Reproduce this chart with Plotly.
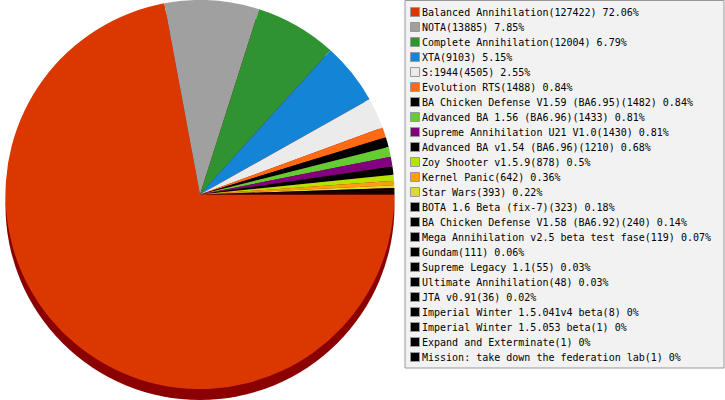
import plotly.graph_objects as go

names = [
    "Balanced Annihilation", "NOTA", "Complete Annihilation", "XTA", "S:1944",
    "Evolution RTS", "BA Chicken Defense V1.59 (BA6.95)", "Advanced BA 1.56 (BA6.96)",
    "Supreme Annihilation U21 V1.0", "Advanced BA v1.54 (BA6.96)", "Zoy Shooter v1.5.9",
    "Kernel Panic", "Star Wars", "BOTA 1.6 Beta (fix-7)", "BA Chicken Defense V1.58 (BA6.92)",
    "Mega Annihilation v2.5 beta test fase", "Gundam", "Supreme Legacy 1.1",
    "Ultimate Annihilation", "JTA v0.91", "Imperial Winter 1.5.041v4 beta",
    "Imperial Winter 1.5.053 beta", "Expand and Exterminate",
    "Mission: take down the federation lab",
]
values = [127422, 13885, 12004, 9103, 4505, 1488, 1482, 1433, 1430, 1210, 878,
          642, 393, 323, 240, 119, 111, 55, 48, 36, 8, 1, 1, 1]
colors = ["#DA3800", "#A0A0A0", "#309332", "#1384D6", "#EBEBEB", "#FF6A13",
          "#000000", "#66CC33", "#800080", "#000000", "#B5E400", "#FF9F10",
          "#DCDC2A"] + ["#000000"] * 11

total = sum(values)
labels = [f"{n}({v}) {round(v / total * 100, 2):g}%" for n, v in zip(names, values)]

W, H = 725, 400
fig = go.Figure()

# shadow (3D depth) pie
fig.add_trace(go.Pie(
    values=[1], labels=["depth"], marker=dict(colors=["#8B0000"], line=dict(width=0)),
    textinfo="none", hoverinfo="skip", showlegend=False, sort=False,
    domain=dict(x=[5.5 / W, 394.5 / W], y=[0, 1 - 11 / H]),
))

# main pie
fig.add_trace(go.Pie(
    values=values, labels=names, marker=dict(colors=colors, line=dict(width=0)),
    textinfo="none", hoverinfo="label+value+percent", showlegend=False,
    sort=False, direction="clockwise", rotation=90,
    domain=dict(x=[5.5 / W, 394.5 / W], y=[1 - 389 / H, 1]),
))

# legend as markers on hidden axes
idx = list(range(len(names)))
fig.add_trace(go.Scatter(
    x=[415] * len(idx), y=idx, mode="markers",
    marker=dict(symbol="square", size=9, color=colors, line=dict(color="#999999", width=1)),
    hoverinfo="skip", showlegend=False, cliponaxis=False,
))
for i, t in enumerate(labels):
    fig.add_annotation(
        x=420 / W, xref="paper", y=i, yref="y", text=t, showarrow=False,
        xanchor="left", yanchor="middle",
        font=dict(family="DejaVu Sans Mono", size=10, color="#000000"),
    )

fig.add_shape(type="rect", xref="paper", yref="paper",
              x0=405 / W, x1=724 / W, y0=1 - 368 / H, y1=1 - 0.5 / H,
              line=dict(color="#999999", width=1), fillcolor="#F2F2F2", layer="below")

fig.update_layout(
    width=W, height=H, margin=dict(l=0, r=0, t=0, b=0),
    paper_bgcolor="white", plot_bgcolor="rgba(0,0,0,0)",
    xaxis=dict(visible=False, range=[0, W], domain=[0, 1], fixedrange=True),
    yaxis=dict(visible=False, range=[(H - 12) / 15, -12 / 15], domain=[0, 1], fixedrange=True),
    showlegend=False,
)

fig.write_html(
    "out.html",
    config={"displayModeBar": False},
    post_script="document.body.style.margin='0';document.body.style.overflow='hidden';",
)
